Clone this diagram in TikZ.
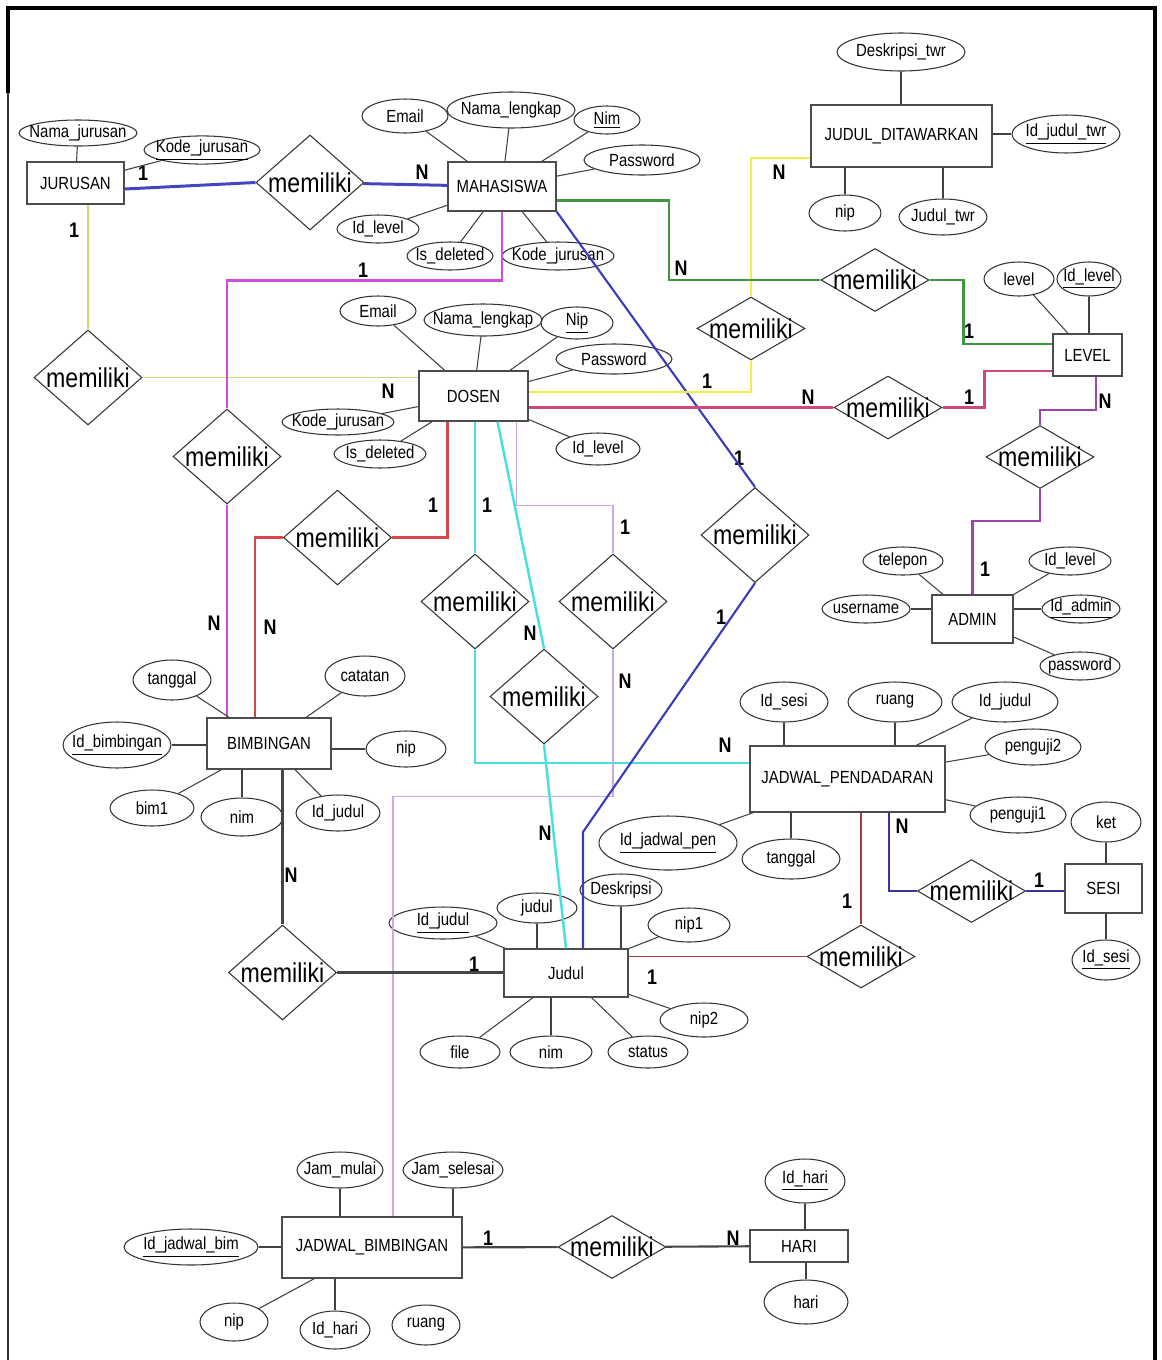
\documentclass[tikz,border=0pt]{standalone}
\usepackage{fontspec}
\setmainfont{Liberation Sans}[FakeStretch=0.85]
\usetikzlibrary{shapes.geometric}
\newcommand{\zw}[1]{\makebox[0pt]{#1}}
\definecolor{cBlue}{HTML}{4545C4}
\definecolor{cLime}{HTML}{C9D977}
\definecolor{cMagenta}{HTML}{D24ED6}
\definecolor{cRed}{HTML}{D64848}
\definecolor{cCyan}{HTML}{4ADFDF}
\definecolor{cLav}{HTML}{C6A9E6}
\definecolor{cNavy}{HTML}{3B3BBE}
\definecolor{cYellow}{HTML}{F0EE48}
\definecolor{cGreen}{HTML}{3F983F}
\definecolor{cRose}{HTML}{CF4878}
\definecolor{cPurple}{HTML}{9A46A6}
\definecolor{cDark}{HTML}{454545}
\definecolor{cBrick}{HTML}{A63C3C}
\definecolor{cIndigo}{HTML}{36369A}
\begin{document}
\begin{tikzpicture}[x=0.02cm,y=-0.02cm,
  ent/.style={shape=rectangle,draw=black!70,line width=0.8pt,inner sep=0pt,font=\fontsize{10}{12}\selectfont},
  attr/.style={shape=ellipse,draw=black!80,line width=0.6pt,inner sep=0pt,font=\fontsize{10}{12}\selectfont},
  rel/.style={shape=diamond,draw=black!80,line width=0.6pt,inner sep=0pt,minimum width=2.16cm,font=\fontsize{15.5}{18}\selectfont},
  tall/.style={rel,minimum height=1.9cm},
  flat/.style={rel,minimum height=1.26cm},
  card/.style={inner sep=0pt,font=\bfseries\fontsize{12}{14}\selectfont},
  lk/.style={-,draw=black!75,line width=0.6pt}]
\useasboundingbox (0,0) rectangle (1162,1360);
\draw[line width=2.4pt] (8,93) -- (8,8) -- (1155,8) -- (1155,1360);
\draw[line width=1.6pt,black!80] (8,93) -- (8,1360);

% entitas
\node[ent,minimum width=1.94cm,minimum height=0.84cm] (jur) at (75.5,183) {JURUSAN};
\node[ent,minimum width=2.16cm,minimum height=0.98cm] (mhs) at (502,186.5) {MAHASISWA};
\node[ent,minimum width=3.62cm,minimum height=1.24cm] (jdt) at (901.5,136) {JUDUL\_DITAWARKAN};
\node[ent,minimum width=1.38cm,minimum height=0.84cm] (lvl) at (1087.5,355) {LEVEL};
\node[ent,minimum width=2.18cm,minimum height=1.00cm] (dsn) at (473.5,396) {DOSEN};
\node[ent,minimum width=1.62cm,minimum height=0.96cm] (adm) at (972.5,619) {ADMIN};
\node[ent,minimum width=2.48cm,minimum height=1.02cm] (bim) at (269,743.5) {BIMBINGAN};
\node[ent,minimum width=3.90cm,minimum height=1.32cm] (jp) at (847.5,779) {JADWAL\_PENDADARAN};
\node[ent,minimum width=1.54cm,minimum height=0.98cm] (sesi) at (1103.5,888.5) {SESI};
\node[ent,minimum width=2.48cm,minimum height=0.96cm] (jud) at (566,973) {Judul};
\node[ent,minimum width=3.60cm,minimum height=1.22cm] (jb) at (372,1247.5) {JADWAL\_BIMBINGAN};
\node[ent,minimum width=1.96cm,minimum height=0.64cm] (hari) at (799,1246) {HARI};

% relasi
\node[tall] (r1) at (310,182.5) {\zw{memiliki}};
\node[tall] (r2) at (88,377.5) {\zw{memiliki}};
\node[tall] (r3) at (227,456.5) {\zw{memiliki}};
\node[tall] (r4) at (337.5,537.5) {\zw{memiliki}};
\node[tall] (r5) at (475,601.5) {\zw{memiliki}};
\node[tall] (r6) at (544,696.5) {\zw{memiliki}};
\node[tall] (r7) at (613,601.5) {\zw{memiliki}};
\node[tall] (r8) at (755,535) {\zw{memiliki}};
\node[flat] (r9) at (751,328.5) {\zw{memiliki}};
\node[flat] (r10) at (875,280) {\zw{memiliki}};
\node[flat] (r11) at (888,407.5) {\zw{memiliki}};
\node[flat] (r12) at (1040,457) {\zw{memiliki}};
\node[tall] (r13) at (282.5,972.5) {\zw{memiliki}};
\node[flat] (r14) at (861,956.5) {\zw{memiliki}};
\node[flat] (r15) at (971.5,891) {\zw{memiliki}};
\node[flat] (r16) at (612,1247) {\zw{memiliki}};

% atribut JURUSAN
\node[attr,minimum width=2.36cm,minimum height=0.52cm] (j_nama) at (78,133) {\zw{Nama\_jurusan}};
\node[attr,minimum width=2.32cm,minimum height=0.52cm] (j_kode) at (202,150) {\zw{\underline{Kode\_jurusan}}};
% atribut MAHASISWA
\node[attr,minimum width=1.72cm,minimum height=0.68cm] (m_email) at (405,116) {\zw{Email}};
\node[attr,minimum width=2.56cm,minimum height=0.72cm] (m_nama) at (511,110) {\zw{Nama\_lengkap}};
\node[attr,minimum width=1.32cm,minimum height=0.56cm] (m_nim) at (607,120) {\zw{\underline{Nim}}};
\node[attr,minimum width=2.32cm,minimum height=0.60cm] (m_pass) at (642,160) {\zw{Password}};
\node[attr,minimum width=1.64cm,minimum height=0.56cm] (m_lvl) at (378,229) {\zw{Id\_level}};
\node[attr,minimum width=1.72cm,minimum height=0.56cm] (m_del) at (450,256) {\zw{Is\_deleted}};
\node[attr,minimum width=2.24cm,minimum height=0.56cm] (m_kode) at (558,256) {\zw{Kode\_jurusan}};
% atribut JUDUL_DITAWARKAN
\node[attr,minimum width=2.56cm,minimum height=0.76cm] (t_desk) at (901,52) {\zw{Deskripsi\_twr}};
\node[attr,minimum width=2.16cm,minimum height=0.76cm] (t_id) at (1066,134) {\zw{\underline{Id\_judul\_twr}}};
\node[attr,minimum width=1.44cm,minimum height=0.72cm] (t_nip) at (845,213) {\zw{nip}};
\node[attr,minimum width=1.76cm,minimum height=0.72cm] (t_judul) at (943,217) {\zw{Judul\_twr}};
% atribut LEVEL
\node[attr,minimum width=1.40cm,minimum height=0.68cm] (l_lvl) at (1019,279) {\zw{level}};
\node[attr,minimum width=1.28cm,minimum height=0.68cm] (l_id) at (1089,279) {\zw{\underline{Id\_level}}};
% atribut DOSEN
\node[attr,minimum width=1.52cm,minimum height=0.60cm] (d_email) at (378,311) {\zw{Email}};
\node[attr,minimum width=2.36cm,minimum height=0.64cm] (d_nama) at (483,320) {\zw{Nama\_lengkap}};
\node[attr,minimum width=1.44cm,minimum height=0.64cm] (d_nip) at (577,323) {\zw{\underline{Nip}}};
\node[attr,minimum width=2.32cm,minimum height=0.60cm] (d_pass) at (614,359) {\zw{Password}};
\node[attr,minimum width=2.24cm,minimum height=0.52cm] (d_kode) at (338,422) {\zw{Kode\_jurusan}};
\node[attr,minimum width=1.84cm,minimum height=0.56cm] (d_del) at (380,454) {\zw{Is\_deleted}};
\node[attr,minimum width=1.68cm,minimum height=0.64cm] (d_lvl) at (598,449) {\zw{Id\_level}};
% atribut ADMIN
\node[attr,minimum width=1.60cm,minimum height=0.56cm] (a_tel) at (903,561) {\zw{telepon}};
\node[attr,minimum width=1.76cm,minimum height=0.56cm] (a_user) at (866,609) {\zw{username}};
\node[attr,minimum width=1.64cm,minimum height=0.56cm] (a_lvl) at (1070,561) {\zw{Id\_level}};
\node[attr,minimum width=1.56cm,minimum height=0.56cm] (a_id) at (1081,609) {\zw{\underline{Id\_admin}}};
\node[attr,minimum width=1.60cm,minimum height=0.56cm] (a_pass) at (1080,666) {\zw{password}};
% atribut BIMBINGAN
\node[attr,minimum width=1.56cm,minimum height=0.80cm] (b_tgl) at (172,680) {\zw{tanggal}};
\node[attr,minimum width=1.60cm,minimum height=0.80cm] (b_cat) at (365,676) {\zw{catatan}};
\node[attr,minimum width=2.16cm,minimum height=0.92cm] (b_id) at (117,745) {\zw{\underline{Id\_bimbingan}}};
\node[attr,minimum width=1.60cm,minimum height=0.72cm] (b_nip) at (406,749) {\zw{nip}};
\node[attr,minimum width=1.68cm,minimum height=0.72cm] (b_bim) at (152,808) {\zw{bim1}};
\node[attr,minimum width=1.64cm,minimum height=0.76cm] (b_nim) at (242,817) {\zw{nim}};
\node[attr,minimum width=1.68cm,minimum height=0.72cm] (b_jud) at (338,813) {\zw{Id\_judul}};
% atribut JADWAL_PENDADARAN
\node[attr,minimum width=1.76cm,minimum height=0.80cm] (p_sesi) at (784,702) {\zw{Id\_sesi}};
\node[attr,minimum width=1.88cm,minimum height=0.80cm] (p_ruang) at (895,702) {\zw{ruang}};
\node[attr,minimum width=2.12cm,minimum height=0.80cm] (p_jud) at (1005,702) {\zw{Id\_judul}};
\node[attr,minimum width=1.92cm,minimum height=0.72cm] (p_pgj2) at (1033,747) {\zw{penguji2}};
\node[attr,minimum width=1.92cm,minimum height=0.72cm] (p_pgj1) at (1018,815) {\zw{penguji1}};
\node[attr,minimum width=2.76cm,minimum height=1.08cm] (p_id) at (668,843) {\zw{\underline{Id\_jadwal\_pen}}};
\node[attr,minimum width=1.96cm,minimum height=0.80cm] (p_tgl) at (791,859) {\zw{tanggal}};
% atribut SESI
\node[attr,minimum width=1.40cm,minimum height=0.80cm] (s_ket) at (1106,822) {\zw{ket}};
\node[attr,minimum width=1.36cm,minimum height=0.80cm] (s_id) at (1106,960) {\zw{\underline{Id\_sesi}}};
% atribut Judul
\node[attr,minimum width=2.16cm,minimum height=0.64cm] (u_id) at (443,923) {\zw{\underline{Id\_judul}}};
\node[attr,minimum width=1.60cm,minimum height=0.60cm] (u_jud) at (537,908) {\zw{judul}};
\node[attr,minimum width=1.64cm,minimum height=0.64cm] (u_desk) at (621,890) {\zw{Deskripsi}};
\node[attr,minimum width=1.64cm,minimum height=0.68cm] (u_nip1) at (689,925) {\zw{nip1}};
\node[attr,minimum width=1.76cm,minimum height=0.68cm] (u_nip2) at (704,1020) {\zw{nip2}};
\node[attr,minimum width=1.60cm,minimum height=0.64cm] (u_file) at (460,1052) {\zw{file}};
\node[attr,minimum width=1.64cm,minimum height=0.64cm] (u_nim) at (551,1052) {\zw{nim}};
\node[attr,minimum width=1.60cm,minimum height=0.64cm] (u_stat) at (648,1052) {\zw{status}};
% atribut JADWAL_BIMBINGAN
\node[attr,minimum width=1.72cm,minimum height=0.72cm] (g_mulai) at (340,1170) {\zw{Jam\_mulai}};
\node[attr,minimum width=2.00cm,minimum height=0.72cm] (g_sls) at (453,1170) {\zw{Jam\_selesai}};
\node[attr,minimum width=2.68cm,minimum height=0.72cm] (g_id) at (191,1247) {\zw{\underline{Id\_jadwal\_bim}}};
\node[attr,minimum width=1.36cm,minimum height=0.76cm] (g_nip) at (234,1322) {\zw{nip}};
\node[attr,minimum width=1.40cm,minimum height=0.76cm] (g_hari) at (335,1330) {\zw{Id\_hari}};
\node[attr,minimum width=1.36cm,minimum height=0.80cm] (g_ruang) at (426,1325) {\zw{ruang}};
% atribut HARI
\node[attr,minimum width=1.60cm,minimum height=0.88cm] (h_id) at (805,1181) {\zw{\underline{Id\_hari}}};
\node[attr,minimum width=1.68cm,minimum height=0.88cm] (h_hari) at (806,1302) {\zw{hari}};

% kardinalitas
\node[card] (k1a) at (143,173) {1};
\node[card] (k1b) at (422,172) {N};
\node[card] (k2a) at (74,230) {1};
\node[card] (k2b) at (388,391) {N};
\node[card] (k3a) at (363,270) {1};
\node[card] (k3b) at (214,623) {N};
\node[card] (k4a) at (433,505) {1};
\node[card] (k4b) at (270,627) {N};
\node[card] (k5a) at (487,505) {1};
\node[card] (k5b) at (725,745) {N};
\node[card] (k6a) at (530,633) {N};
\node[card] (k6b) at (545,833) {N};
\node[card] (k7a) at (625,527) {1};
\node[card] (k7b) at (625,681) {N};
\node[card] (k8a) at (739,458) {1};
\node[card] (k8b) at (721,617) {1};
\node[card] (k9a) at (779,172) {N};
\node[card] (k9b) at (707,381) {1};
\node[card] (k10a) at (681,268) {N};
\node[card] (k10b) at (969,331) {1};
\node[card] (k11a) at (808,397) {N};
\node[card] (k11b) at (969,397) {1};
\node[card] (k12a) at (1105,401) {N};
\node[card] (k12b) at (985,569) {1};
\node[card] (k13a) at (291,875) {N};
\node[card] (k13b) at (474,964) {1};
\node[card] (k14a) at (847,901) {1};
\node[card] (k14b) at (652,977) {1};
\node[card] (k15a) at (902,826) {N};
\node[card] (k15b) at (1039,880) {1};
\node[card] (k16a) at (488,1238) {1};
\node[card] (k16b) at (733,1238) {N};

% garis relasi
\path [-,draw=cBlue,line width=1.7pt] ([yshift=-0.12cm]jur.east) edge node {} (r1.west);
\path [-,draw=cBlue,line width=1.7pt] (r1) edge node {} (mhs);
\path [-,draw=cLime,line width=1.1pt] (r2.north) edge node {} (r2.north |- jur.south);
\path [-,draw=cLime,line width=1.1pt] (r2.east) edge node {} (r2.east -| dsn.west);
\path [draw=cMagenta,line width=1.7pt] (mhs.south) -- ++(0,69) -| (r3.north);
\path [-,draw=cMagenta,line width=1.7pt] (r3.south) edge node {} (r3.south |- bim.north);
\path [draw=cRed,line width=1.2pt] ([xshift=-0.52cm]dsn.south) |- (r4.east);
\path [draw=cRed,line width=1.2pt] (r4.west) -| ([xshift=-0.28cm]bim.north);
\path [-,draw=cCyan,line width=1.4pt] (r5.north |- dsn.south) edge node {} (r5.north);
\path [draw=cCyan,line width=1.4pt] (r5.south) |- ([yshift=0.32cm]jp.west);
\path [-,draw=cCyan,line width=1.4pt] ([xshift=0.48cm]dsn.south) edge node {} (r6.north);
\path [-,draw=cCyan,line width=1.4pt] (r6.south) edge node {} (jud.north);
\path [draw=cLav,line width=0.9pt] ([xshift=0.86cm]dsn.south) -- ++(0,84) -| (r7.north);
\path [draw=cLav,line width=0.9pt] (r7.south) -- ++(0,147) -| ([xshift=0.42cm]jb.north);
\coordinate (b8) at (583,832);
\path [-,draw=cNavy,line width=1.2pt] (mhs.south east) edge node {} (r8.north);
\path [draw=cNavy,line width=1.2pt] (r8.south) -- (b8) -- (b8 |- jud.north);
\path [draw=cYellow,line width=1.3pt] ([yshift=-0.44cm]jdt.west) -| (r9.north);
\path [draw=cYellow,line width=1.3pt] (r9.south) |- ([yshift=0.08cm]dsn.east);
\path [draw=cGreen,line width=1.2pt] ([yshift=-0.28cm]mhs.east) -- ++(112,0) |- (r10.west);
\path [draw=cGreen,line width=1.2pt] (r10.east) -- ++(34,0) |- ([yshift=0.22cm]lvl.west);
\path [-,draw=cRose,line width=1.2pt] (r11.west -| dsn.east) edge node {} (r11.west);
\path [draw=cRose,line width=1.2pt] (r11.east) -- ++(42,0) |- ([yshift=-0.32cm]lvl.west);
\path [draw=cPurple,line width=1.2pt] ([xshift=0.17cm]lvl.south) -- ++(0,33) -| (r12.north);
\path [draw=cPurple,line width=1.2pt] (r12.south) -- ++(0,32) -| (adm.north);
\path [-,draw=cDark,line width=1.2pt] (r13.north |- bim.south) edge node {} (r13.north);
\path [-,draw=cDark,line width=1.2pt] (r13.east) edge node {} (r13.east -| jud.west);
\path [-,draw=cBrick,line width=1.1pt] (r14.north |- jp.south) edge node {} (r14.north);
\path [-,draw=cBrick,line width=1.1pt] (r14.west) edge node {} (r14.west -| jud.east);
\path [draw=cIndigo,line width=1.2pt] ([xshift=0.83cm]jp.south) |- (r15.west);
\path [-,draw=cIndigo,line width=1.2pt] (r15.east) edge node {} (r15.east -| sesi.west);
\path [-,draw=cDark,line width=1.2pt] (jb) edge node {} (r16);
\path [-,draw=cDark,line width=1.2pt] (r16) edge node {} (hari);

% garis atribut
\path [lk] (j_nama) edge node {} (jur);
\path [lk] (j_kode) edge node {} (jur);
\path [lk] (m_email) edge node {} (mhs);
\path [lk] (m_nama) edge node {} (mhs);
\path [lk] (m_nim) edge node {} (mhs);
\path [lk] (m_pass) edge node {} (mhs);
\path [lk] (m_lvl) edge node {} (mhs);
\path [lk] (m_del) edge node {} (mhs);
\path [lk] (m_kode) edge node {} (mhs);
\path [lk] (t_desk) edge node {} (t_desk |- jdt.north);
\path [lk] (t_id) edge node {} (t_id -| jdt.east);
\path [lk] (t_nip) edge node {} (t_nip |- jdt.south);
\path [lk] (t_judul) edge node {} (t_judul |- jdt.south);
\path [lk] (l_lvl) edge node {} (lvl);
\path [lk] (l_id) edge node {} (l_id |- lvl.north);
\path [lk] (d_email) edge node {} (dsn);
\path [lk] (d_nama) edge node {} (dsn);
\path [lk] (d_nip) edge node {} (dsn);
\path [lk] (d_pass) edge node {} (dsn);
\path [lk] (d_kode) edge node {} (dsn);
\path [lk] (d_del) edge node {} (dsn);
\path [lk] (d_lvl) edge node {} (dsn);
\path [lk] (a_tel) edge node {} (adm);
\path [lk] (a_user) edge node {} (a_user -| adm.west);
\path [lk] (a_lvl) edge node {} (adm);
\path [lk] (a_id) edge node {} (a_id -| adm.east);
\path [lk] (a_pass) edge node {} (adm);
\path [lk] (b_tgl) edge node {} (bim);
\path [lk] (b_cat) edge node {} (bim);
\path [lk] (b_id) edge node {} (b_id -| bim.west);
\path [lk] (b_nip) edge node {} (b_nip -| bim.east);
\path [lk] (b_bim) edge node {} (bim);
\path [lk] (b_nim) edge node {} (b_nim |- bim.south);
\path [lk] (b_jud) edge node {} (bim);
\path [lk] (p_sesi) edge node {} (p_sesi |- jp.north);
\path [lk] (p_ruang) edge node {} (p_ruang |- jp.north);
\path [lk] (p_jud) edge node {} (jp);
\path [lk] (p_pgj2) edge node {} (jp);
\path [lk] (p_pgj1) edge node {} (jp);
\path [lk] (p_id) edge node {} (jp);
\path [lk] (p_tgl) edge node {} (p_tgl |- jp.south);
\path [lk] (s_ket) edge node {} (s_ket |- sesi.north);
\path [lk] (s_id) edge node {} (s_id |- sesi.south);
\path [lk] (u_id) edge node {} (jud);
\path [lk] (u_jud) edge node {} (u_jud |- jud.north);
\path [lk] (u_desk) edge node {} (u_desk |- jud.north);
\path [lk] (u_nip1) edge node {} (jud);
\path [lk] (u_nip2) edge node {} (jud);
\path [lk] (u_file) edge node {} (jud);
\path [lk] (u_nim) edge node {} (u_nim |- jud.south);
\path [lk] (u_stat) edge node {} (jud);
\path [lk] (g_mulai) edge node {} (g_mulai |- jb.north);
\path [lk] (g_sls) edge node {} (g_sls |- jb.north);
\path [lk] (g_id) edge node {} (g_id -| jb.west);
\path [lk] (g_nip) edge node {} (jb);
\path [lk] (g_hari) edge node {} (g_hari |- jb.south);
\path [lk] (h_id) edge node {} (h_id |- hari.north);
\path [lk] (h_hari) edge node {} (h_hari |- hari.south);
\end{tikzpicture}
\end{document}
